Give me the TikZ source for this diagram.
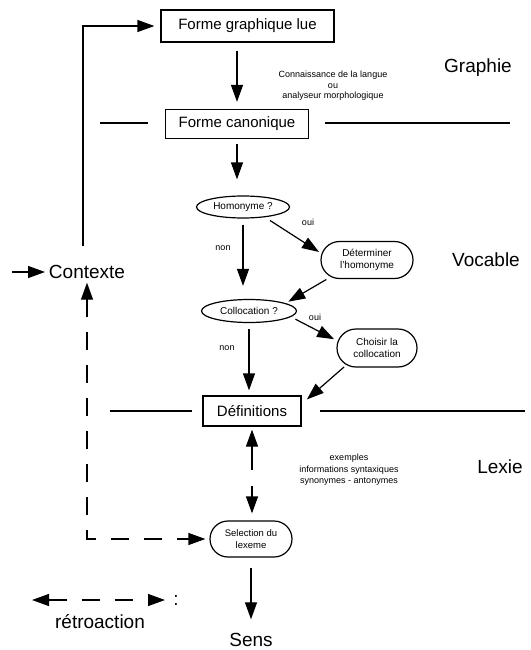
\documentclass[tikz,border=0pt]{standalone}
\usepackage{fontspec}
\setmainfont{Liberation Sans}
\usetikzlibrary{shapes.geometric,shapes.misc,arrows.meta}

\begin{document}
\begin{tikzpicture}[x=1pt,y=-1pt,line width=1.2pt,>={Triangle[length=17pt,width=12pt]},
	boite/.style={draw,rectangle,font=\fontsize{15}{18}\selectfont},
	ovale/.style={draw,ellipse,inner sep=0pt,font=\fontsize{10}{12}\selectfont},
	bulle/.style={draw,rounded rectangle,inner sep=0pt,align=center,font=\fontsize{10}{12.5}\selectfont},
	titre/.style={font=\fontsize{19}{22}\selectfont},
	note/.style={align=center,font=\fontsize{9}{10.5}\selectfont},
	retro/.style={dash pattern=on 18pt off 15pt}]
			\useasboundingbox (0,0) rectangle (530,650);
			\node[boite,minimum width=173pt,minimum height=32pt] (FGL)at(247.5,26) {Forme graphique lue};
			\node[boite,minimum width=143pt,minimum height=29pt] (FC)at(237,124) {Forme canonique};
			\node[ovale,minimum width=93pt,minimum height=22pt] (H)at(243,207) {Homonyme ?};
			\node[bulle,minimum width=92pt,minimum height=37pt] (D)at(367,260) {Déterminer\\l'homonyme};
			\node[ovale,minimum width=95pt,minimum height=23pt] (C)at(249,311) {Collocation ?};
			\node[bulle,minimum width=80pt,minimum height=38pt] (CH)at(377,348) {Choisir la\\collocation};
			\node[boite,minimum width=98pt,minimum height=30pt] (DEF)at(252,411) {Définitions};
			\node[bulle,minimum width=82pt,minimum height=36pt,font=\fontsize{9.5}{12}\selectfont] (SEL)at(251,539) {Selection du\\lexeme};
			\node[titre] (SENS)at(251,640) {Sens};
			\node[titre] (CTX)at(87,272) {Contexte};
			\node[titre] (graphie)at(478,68) {Graphie};
			\node[titre] (vocable)at(486,260) {Vocable};
			\node[titre] (lexie)at(500,467) {Lexie};
			\node[titre] (retroaction)at(100,622) {rétroaction};
			\node[titre] (deuxpoints)at(176,600) {:};
			\node[note] (connaissance)at(333,86) {Connaissance de la langue\\ou\\analyseur morphologique};
			\node[note,font=\fontsize{9}{11.5}\selectfont] (exemples)at(349,470) {exemples\\informations syntaxiques\\synonymes - antonymes};
			\node[note] (non1)at(223,248) {non};
			\node[note] (oui1)at(308,222) {oui};
			\node[note] (non2)at(227,348) {non};
			\node[note] (oui2)at(315,317) {oui};
			\coordinate (entree)at(12,272);
			\coordinate (g1)at(32,600);
			\coordinate (g2)at(165,600);
			\draw (100,123) -- (148,123);
			\draw (325,123) -- (510,123);
			\draw (110,411) -- (192,411);
			\draw (320,411) -- (525,411);
			\draw[->] (entree) -- (CTX.west);
			\draw[->,shorten <=15pt,shorten >=6pt] ([xshift=-4pt]CTX.north) |- (FGL.west);
			\draw[->,shorten <=8pt,shorten >=7pt] (FGL.south -| FC) -- (FC.north);
			\draw[->,shorten <=5pt,shorten >=16pt] (FC.south) -- (FC.south |- H.north);
			\draw[->,shorten <=6pt,shorten >=13pt] (H.south) -- (H.south |- C.north);
			\draw[->,shorten <=6pt,shorten >=3pt] (H.-25) -- (D.172);
			\draw[->,shorten <=5pt,shorten >=3pt] (D.205) -- (C.12);
			\draw[->,shorten <=6pt,shorten >=5pt] (C.south) -- (C.south |- DEF.north);
			\draw[->,shorten <=5pt,shorten >=4pt] (C.-8) -- (CH.170);
			\draw[->,shorten <=3pt,shorten >=7pt] (CH.-151) -- (DEF.8);
			\draw[<->,dash pattern=on 24pt off 16pt,shorten <=3pt,shorten >=7pt] (DEF.south) -- (DEF.south |- SEL.north);
			\draw[<->,retro,shorten >=4pt] (CTX.south) |- (SEL.west);
			\draw[->,shorten <=10pt,shorten >=10pt] (SEL.south) -- (SENS.north);
			\draw[<->,retro] (g1) -- (g2);
\end{tikzpicture}
\end{document}
